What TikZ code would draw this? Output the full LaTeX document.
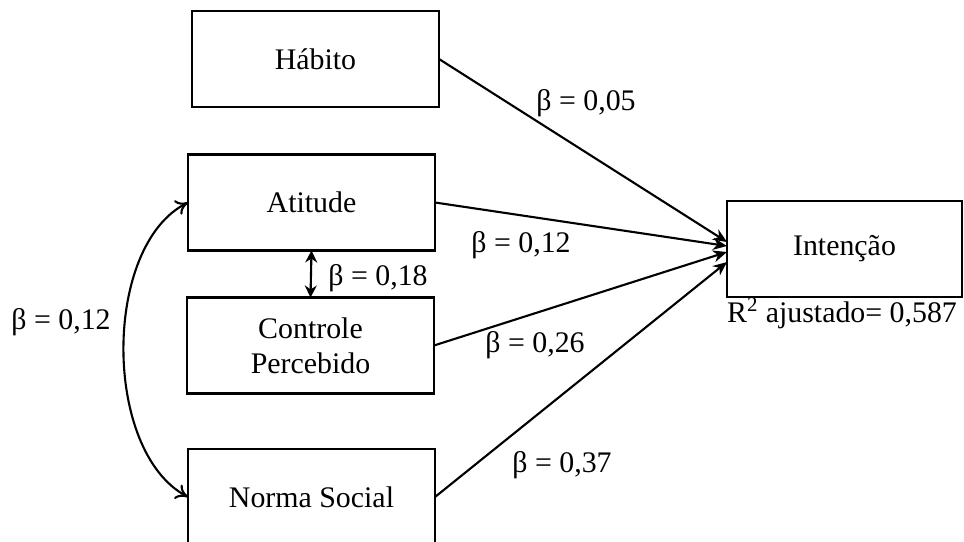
\documentclass[tikz,border=0pt]{standalone}
\usepackage{fontspec}
\setmainfont{Liberation Serif}
\usetikzlibrary{arrows.meta,positioning}

\begin{document}
\begin{tikzpicture}[
  x=1cm,
  y=1cm,
  every node/.style={font=\fontsize{17pt}{20pt}\selectfont},
  construct/.style={
    draw,
    line width=1.4pt,
    align=center,
    inner sep=0pt,
    outer sep=0pt,
    minimum width=4.94cm,
    minimum height=1.92cm
  },
  path/.style={-{Stealth[length=2.8mm,width=2.4mm]}, line width=1.2pt},
  corr/.style={{Stealth[length=2.4mm,width=2.4mm]}-{Stealth[length=2.4mm,width=2.4mm]}, line width=1.2pt},
  cov/.style={{To[length=2.4mm,width=3.2mm]}-{To[length=2.4mm,width=3.2mm]}, line width=1.2pt}
]
\useasboundingbox (0,0) rectangle (19.28,10.82);

\node[construct] (habito) at (6.31,9.64) {Hábito};
\node[construct] (atitude) at (6.23,6.77) {Atitude};
\node[construct] (controle) at (6.21,3.91) {Controle\\Percebido};
\node[construct] (norma) at (6.23,0.88) {Norma Social};
\node[construct, minimum width=4.70cm] (intencao) at (16.89,5.84) {Intenção};

\node (r2) at (16.84,4.56) {R\textsuperscript{2} ajustado= 0,587};

% caminhos para a intencao
\draw[path] (habito.east) -- ([yshift=0.14cm]intencao.west);
\draw[path] (atitude.east) -- ([yshift=0.06cm]intencao.west);
\draw[path] (controle.east) -- ([yshift=-0.06cm]intencao.west);
\draw[path] (norma.east) -- ([yshift=-0.26cm]intencao.west);

\draw[corr] (atitude.south) -- (controle.north);
\draw[cov] (atitude.west) .. controls (2.05,5.9) and (2.05,1.8) .. (norma.west);

\node (b05) at (11.72,8.76) {β = 0,05};
\node (b12a) at (10.42,5.92) {β = 0,12};
\node (b26) at (10.70,3.92) {β = 0,26};
\node (b37) at (11.24,1.52) {β = 0,37};
\node (b18) at (7.56,5.26) {β = 0,18};
\node (b12b) at (1.22,4.38) {β = 0,12};
\end{tikzpicture}
\end{document}
